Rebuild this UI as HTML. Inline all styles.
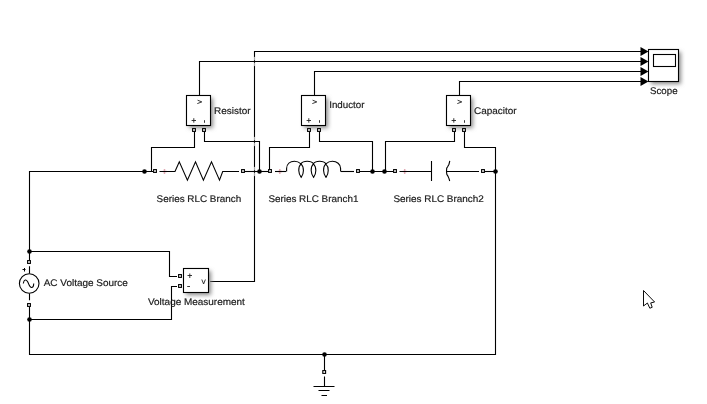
<!DOCTYPE html>
<html><head><meta charset="utf-8"><style>
html,body{margin:0;padding:0;background:#fff;width:707px;height:404px;overflow:hidden}
svg{display:block;will-change:transform;text-rendering:geometricPrecision}
text{font-family:"Liberation Sans",sans-serif;font-size:9.6px;fill:#1a1a1a;stroke:#1a1a1a;stroke-width:0.18}
.ln{fill:none;stroke:#000;stroke-width:1.1}
.sym{fill:none;stroke:#222;stroke-width:0.9}
.pt{fill:#fff;stroke:#000;stroke-width:1.1}
.blk{fill:#fff;stroke:#000;stroke-width:1.1}
.sh{fill:#8a8a8a}
.red{stroke:#e2aab4;stroke-width:1.5;fill:none}
</style></head><body>
<svg width="707" height="404" viewBox="0 0 707 404">
<defs><filter id="blur" x="-30%" y="-30%" width="160%" height="160%"><feGaussianBlur stdDeviation="2.2"/></filter></defs>
<path d="M162.7 171.5 H166.7 M164.5 169 V174 M278 171.5 H282 M279.8 169 V174 M402.7 171.5 H406.7 M404.7 169 V174" class="red"/>
<path d="M210 281.5 H254.5 V51.5 H642" class="ln"/>
<path d="M199.5 95 V61.5 H642" class="ln"/>
<path d="M314.5 95 V71.5 H642" class="ln"/>
<path d="M459.5 95 V81.5 H642" class="ln"/>
<path d="M194.5 132 V147.5 H151.5 V171.5" class="ln"/>
<path d="M204.5 132 V141.5 H259.5 V171.5" class="ln"/>
<path d="M309.5 132 V147.5 H269.5 V169" class="ln"/>
<path d="M319.5 132 V141.5 H372.5 V171.5" class="ln"/>
<path d="M454.5 132 V141.5 H385.5 V171.5" class="ln"/>
<path d="M464.5 132 V147.5 H495.5 V354.5 H29.5 V307" class="ln"/>
<path d="M29.5 260 V171.5 H153" class="ln"/>
<path d="M159.5 171.5 H175 L179.3 161.8 L187.4 180.1 L195.5 161.8 L203.4 180.1 L211.5 161.8 L219.5 180.1 L222.7 171.5 H239" class="ln"/>
<path d="M245 171.5 H268" class="ln"/>
<path d="M275 171.5 H286" class="ln"/>
<path d="M340.8 171.5 H354" class="ln"/>
<path d="M360 171.5 H393" class="ln"/>
<path d="M399.5 171.5 H431.5 M431.5 161 V181" class="ln"/>
<path d="M449.8 160.8 L449.0 164.2 L447.9 166.3 L446.7 168.2 L446.5 171.5 L446.8 174.3 L447.9 176.1 L449.0 178.6 L449.7 181 M446.6 171.5 H479" class="ln"/>
<path d="M485 171.5 H495.5" class="ln"/>
<path d="M29.5 251.5 H169.5 V276.5 H177" class="ln"/>
<path d="M29.5 319.5 H171.5 V286.5 H177" class="ln"/>
<path d="M29.5 266.3 V273.5 M29.5 293.5 V300.3" class="ln"/>
<path d="M324.5 354.5 V370 M324.5 376.5 V386 M313.5 386.5 H334.5 M318.5 390.5 H329.5 M321.5 395.5 H327" class="ln"/>
<path d="M286.6 171.5 V168.5 C286.8 164 290 161.3 294.5 161.3 C297.3 161.3 299.3 162.4 301.0 163.8 C 304.4 167 304.0 174 301.2 177.3 C 298.3 174 297.7 167 301.0 163.8 C 303.2 160.4 311.2 160.4 313.4 163.8 C 316.8 167 316.4 174 313.6 177.3 C 310.7 174 310.1 167 313.4 163.8 C 315.6 160.4 323.6 160.4 325.8 163.8 C 329.2 167 328.8 174 326.0 177.3 C 323.1 174 322.5 167 325.8 163.8 C 327.5 162.4 329.5 161.3 332.3 161.3 C 336.8 161.3 340.6 164 340.6 168.5 V171.5" class="ln"/>
<g fill="#fff" opacity="0.65"><rect x="253.6" y="56.9" width="1.8" height="3.4"/><rect x="253.6" y="62.7" width="1.8" height="3.4"/><rect x="253.6" y="136.9" width="1.8" height="3.4"/><rect x="253.6" y="142.7" width="1.8" height="3.4"/><rect x="253.6" y="166.9" width="1.8" height="3.4"/><rect x="253.6" y="172.7" width="1.8" height="3.4"/></g>
<path d="M640.5 47 L648.5 51.5 L640.5 56Z M640.5 57 L648.5 61.5 L640.5 66Z M640.5 67 L648.5 71.5 L640.5 76Z M640.5 77 L648.5 81.5 L640.5 86Z" fill="#000"/>
<rect x="651" y="52" width="30" height="32" class="sh" filter="url(#blur)"/>
<rect x="648.5" y="49.5" width="30" height="32" class="blk"/>
<rect x="653.5" y="54.5" width="22" height="12" class="ln"/>
<text x="650" y="94" textLength="27.6" lengthAdjust="spacingAndGlyphs">Scope</text>
<rect x="189" y="98" width="24" height="30" class="sh" filter="url(#blur)"/>
<rect x="186.5" y="95.5" width="24" height="30" class="blk"/>
<polyline points="197.6,100.2 201.8,101.9 197.3,103.6" class="sym"/>
<path d="M191.6 120.5 H196 M193.8 118.2 V122.7" class="sym"/>
<path d="M204.5 120.2 V122.8" class="sym"/>
<rect x="192.6" y="128.6" width="2.8" height="2.8" class="pt"/><rect x="202.6" y="128.6" width="2.8" height="2.8" class="pt"/>
<text x="214" y="114" textLength="36.5" lengthAdjust="spacingAndGlyphs">Resistor</text>
<rect x="304" y="98" width="24" height="30" class="sh" filter="url(#blur)"/>
<rect x="301.5" y="95.5" width="24" height="30" class="blk"/>
<polyline points="312.6,100.2 316.8,101.9 312.3,103.6" class="sym"/>
<path d="M306.6 120.5 H311 M308.8 118.2 V122.7" class="sym"/>
<path d="M319.5 120.2 V122.8" class="sym"/>
<rect x="307.6" y="128.6" width="2.8" height="2.8" class="pt"/><rect x="317.6" y="128.6" width="2.8" height="2.8" class="pt"/>
<text x="329.2" y="108" textLength="35.3" lengthAdjust="spacingAndGlyphs">Inductor</text>
<rect x="449" y="98" width="24" height="30" class="sh" filter="url(#blur)"/>
<rect x="446.5" y="95.5" width="24" height="30" class="blk"/>
<polyline points="457.6,100.2 461.8,101.9 457.3,103.6" class="sym"/>
<path d="M451.6 120.5 H456 M453.8 118.2 V122.7" class="sym"/>
<path d="M464.5 120.2 V122.8" class="sym"/>
<rect x="452.6" y="128.6" width="2.8" height="2.8" class="pt"/><rect x="462.6" y="128.6" width="2.8" height="2.8" class="pt"/>
<text x="474" y="114" textLength="42.6" lengthAdjust="spacingAndGlyphs">Capacitor</text>
<circle cx="144.5" cy="171.5" r="2.3" fill="#000"/><circle cx="259.5" cy="171.5" r="2.3" fill="#000"/><circle cx="372.5" cy="171.5" r="2.3" fill="#000"/><circle cx="384.5" cy="171.5" r="2.3" fill="#000"/><circle cx="495.5" cy="171.5" r="2.3" fill="#000"/>
<circle cx="29.5" cy="251.5" r="2.3" fill="#000"/><circle cx="29.5" cy="319.5" r="2.3" fill="#000"/><circle cx="324.5" cy="354.5" r="2.3" fill="#000"/>
<rect x="153.6" y="169.6" width="2.8" height="2.8" class="pt"/><rect x="241.6" y="169.6" width="2.8" height="2.8" class="pt"/><rect x="268.6" y="169.6" width="2.8" height="2.8" class="pt"/><rect x="356.6" y="169.6" width="2.8" height="2.8" class="pt"/><rect x="393.6" y="169.6" width="2.8" height="2.8" class="pt"/><rect x="481.6" y="169.6" width="2.8" height="2.8" class="pt"/>
<text x="156.6" y="202" textLength="84.6" lengthAdjust="spacingAndGlyphs">Series RLC Branch</text>
<text x="268.4" y="202" textLength="90" lengthAdjust="spacingAndGlyphs">Series RLC Branch1</text>
<text x="393.4" y="202" textLength="90.4" lengthAdjust="spacingAndGlyphs">Series RLC Branch2</text>
<rect x="27.6" y="260.6" width="2.8" height="2.8" class="pt"/><rect x="27.6" y="303.6" width="2.8" height="2.8" class="pt"/><rect x="322.8" y="370.6" width="2.8" height="2.8" class="pt"/>
<circle cx="29.2" cy="283.5" r="9.8" class="ln"/>
<path d="M23.3 283.5 C24 279 26.3 279.5 27.5 281.5 C29 284 29.5 287.5 31.5 287.5 C33 287.5 33.7 285 33.7 283.5" class="ln"/>
<path d="M22.5 269.5 H25.5 M24.5 268 V271.5" stroke="#000" stroke-width="1" fill="none"/>
<text x="43.7" y="286" textLength="84.2" lengthAdjust="spacingAndGlyphs">AC Voltage Source</text>
<rect x="186" y="271" width="25" height="24" class="sh" filter="url(#blur)"/>
<rect x="183.5" y="268.5" width="25" height="24" class="blk"/>
<rect x="178.6" y="274.6" width="2.8" height="2.8" class="pt"/><rect x="178.6" y="284.6" width="2.8" height="2.8" class="pt"/>
<path d="M187.5 275.5 H192 M189.8 273.5 V278 M187.2 286.5 H190" class="sym"/>
<path d="M201.8 279.5 L203.6 284 L205.4 279.5" class="sym"/>
<text x="148" y="305" textLength="96.8" lengthAdjust="spacingAndGlyphs">Voltage Measurement</text>
<path d="M643.5 290.5 L643.5 306 L647.4 303 L649.8 308.2 L652.2 307.3 L650.7 302.9 L654.6 302 Z" fill="#fff" stroke="#000" stroke-width="0.95" stroke-linejoin="miter"/>
</svg>
</body></html>
